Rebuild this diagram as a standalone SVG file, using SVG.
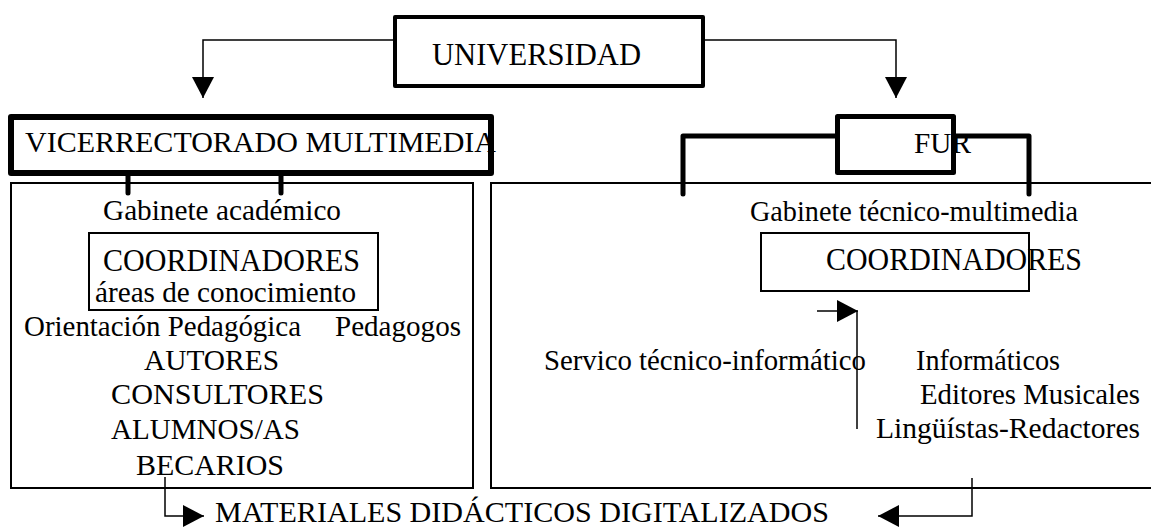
<svg xmlns="http://www.w3.org/2000/svg" width="1151" height="528" viewBox="0 0 1151 528">
<style>
text{font-family:"Liberation Serif","Times New Roman",serif;font-size:30px;fill:#000}
.big{font-size:32px}
.thin{fill:none;stroke:#000;stroke-width:2}
.thick{fill:#fff;stroke:#000;stroke-linejoin:round}
.conn{fill:none;stroke:#000;stroke-width:1.5}
.bar{fill:none;stroke:#000;stroke-width:5;stroke-linecap:round;stroke-linejoin:round}
</style>
<defs>
<marker id="ah" markerUnits="userSpaceOnUse" markerWidth="21" markerHeight="22" refX="21" refY="11" orient="auto" viewBox="0 0 21 22">
<path d="M0,0 L21,11 L0,22 z" fill="#000"/>
</marker>
</defs>
<rect width="1151" height="528" fill="#fff"/>

<g id="connectors">
<path class="conn" d="M395,40 H203 V98" marker-end="url(#ah)"/>
<path class="conn" d="M703,40 H896 V98" marker-end="url(#ah)"/>
<path class="bar" d="M128,176 V193 M281,176 V193"/>
<path class="bar" d="M683,194 V136 H1029 V194"/>
<path class="conn" d="M817,311 H858" marker-end="url(#ah)"/>
<path class="conn" d="M857,311 V429"/>
<path class="conn" d="M165,477 V516 H204" marker-end="url(#ah)"/>
<path class="conn" d="M972,478 V516 H878" marker-end="url(#ah)"/>
</g>

<g id="universidad">
<rect class="thick" x="395" y="17" width="308" height="69" stroke-width="4"/>
<text class="big" x="432" y="65" textLength="209" lengthAdjust="spacingAndGlyphs">UNIVERSIDAD</text>
</g>

<g id="vicerrectorado">
<rect class="thick" x="11" y="117" width="480" height="56" stroke-width="6"/>
<text x="25" y="152" textLength="471" lengthAdjust="spacingAndGlyphs">VICERRECTORADO MULTIMEDIA</text>
</g>

<g id="fur">
<rect class="thick" x="837.5" y="116.5" width="116" height="56" stroke-width="5"/>
<text x="914" y="153" textLength="57" lengthAdjust="spacingAndGlyphs">FUR</text>
</g>

<g id="gabinete-academico">
<rect class="thin" x="11" y="183" width="462" height="305"/>
<text x="103" y="220" textLength="238" lengthAdjust="spacingAndGlyphs">Gabinete académico</text>
<rect class="thin" x="89" y="233" width="289" height="77"/>
<text class="big" x="103" y="271" textLength="257" lengthAdjust="spacingAndGlyphs">COORDINADORES</text>
<text x="95" y="302" textLength="261" lengthAdjust="spacingAndGlyphs">áreas de conocimiento</text>
<text x="24" y="336" textLength="277" lengthAdjust="spacingAndGlyphs">Orientación Pedagógica</text>
<text x="335" y="336" textLength="126" lengthAdjust="spacingAndGlyphs">Pedagogos</text>
<text x="144" y="370" textLength="135" lengthAdjust="spacingAndGlyphs">AUTORES</text>
<text x="111" y="404" textLength="213" lengthAdjust="spacingAndGlyphs">CONSULTORES</text>
<text x="111" y="439" textLength="189" lengthAdjust="spacingAndGlyphs">ALUMNOS/AS</text>
<text x="136" y="475" textLength="148" lengthAdjust="spacingAndGlyphs">BECARIOS</text>
</g>

<g id="gabinete-tecnico">
<rect class="thin" x="491" y="183" width="700" height="305"/>
<text x="750" y="221" textLength="328" lengthAdjust="spacingAndGlyphs">Gabinete técnico-multimedia</text>
<rect class="thin" x="761" y="233" width="268" height="58"/>
<text class="big" x="826" y="270" textLength="256" lengthAdjust="spacingAndGlyphs">COORDINADORES</text>
<text x="544" y="370" textLength="322" lengthAdjust="spacingAndGlyphs">Servico técnico-informático</text>
<text x="916" y="370" textLength="144" lengthAdjust="spacingAndGlyphs">Informáticos</text>
<text x="920" y="404" textLength="220" lengthAdjust="spacingAndGlyphs">Editores Musicales</text>
<text x="876" y="438" textLength="264" lengthAdjust="spacingAndGlyphs">Lingüístas-Redactores</text>
</g>

<g id="materiales">
<text x="215" y="522" textLength="614" lengthAdjust="spacingAndGlyphs">MATERIALES DIDÁCTICOS DIGITALIZADOS</text>
</g>
</svg>
